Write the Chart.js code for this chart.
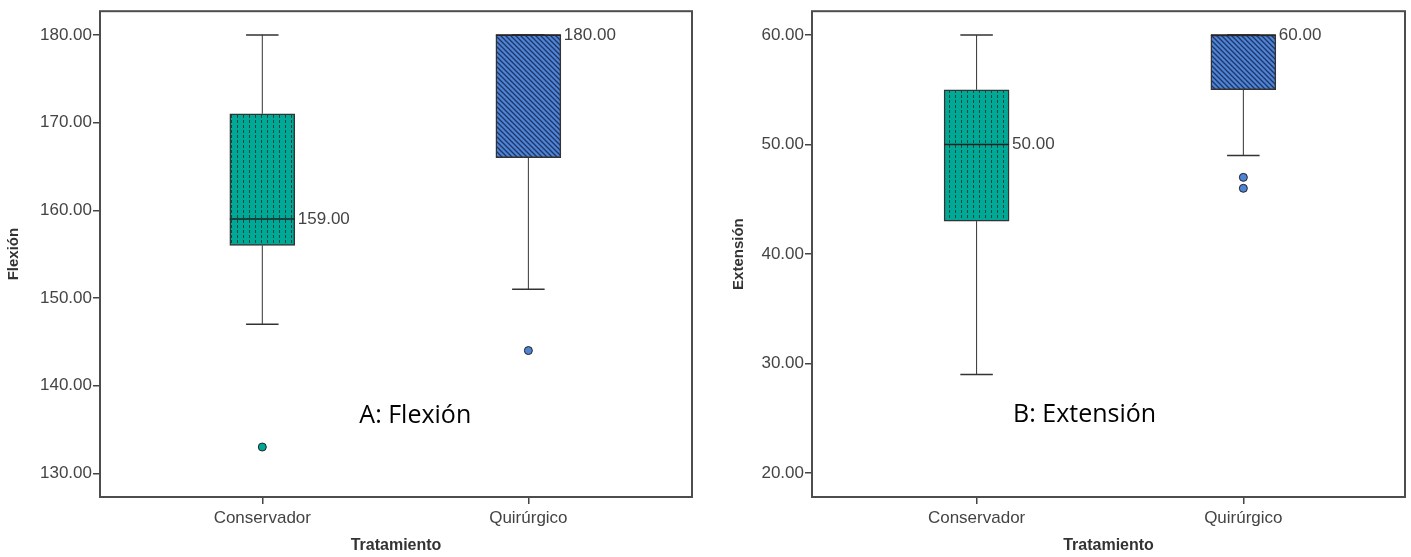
<!DOCTYPE html>
<html>
<head>
<meta charset="utf-8">
<script src="https://cdn.jsdelivr.net/npm/chart.js@4.4.1/dist/chart.umd.min.js"></script>
<style>
  body { margin: 0; background: #fff; }
  #wrap { display: flex; width: 1411px; height: 557px; }
  canvas { display: block; }
</style>
</head>
<body>
<div id="wrap">
  <canvas id="flexChart" width="706" height="557"></canvas>
  <canvas id="extChart" width="705" height="557"></canvas>
</div>
<script>
const categories = ['Conservador', 'Quirúrgico'];

// A: Flexión
const flexMin = [147, 151];
const flexQ1 = [156, 166];
const flexMedian = [159, 180];
const flexQ3 = [171, 180];
const flexMax = [180, 180];
const flexOutliers = [[133], [144]];
const flexTicks = [130, 140, 150, 160, 170, 180];

// B: Extensión
const extMin = [29, 49];
const extQ1 = [43, 55];
const extMedian = [50, 60];
const extQ3 = [55, 60];
const extMax = [60, 60];
const extOutliers = [[], [47, 46]];
const extTicks = [20, 30, 40, 50, 60];

const TEAL = '#00a996';
const BLUE = '#4f84d4';
const TICK_FONT = { family: 'Liberation Sans, Arial, sans-serif', size: 17 };

function dottedPattern() {
  const c = document.createElement('canvas');
  c.width = 6; c.height = 5;
  const g = c.getContext('2d');
  g.fillStyle = TEAL;
  g.fillRect(0, 0, 6, 5);
  g.fillStyle = '#15463f';
  g.fillRect(3, 0, 1, 3);
  return g.createPattern(c, 'repeat');
}

function hatchPattern() {
  const c = document.createElement('canvas');
  c.width = 5; c.height = 5;
  const g = c.getContext('2d');
  g.fillStyle = BLUE;
  g.fillRect(0, 0, 5, 5);
  g.strokeStyle = '#1c3466';
  g.lineWidth = 1.3;
  g.beginPath();
  g.moveTo(-1, -1); g.lineTo(6, 6);
  g.moveTo(-1, 4); g.lineTo(1, 6);
  g.moveTo(4, -1); g.lineTo(6, 1);
  g.stroke();
  return g.createPattern(c, 'repeat');
}

const boxExtras = {
  id: 'boxExtras',
  beforeDatasetsDraw(chart, args, opts) {
    const ctx = chart.ctx;
    const y = chart.scales.y;
    const meta = chart.getDatasetMeta(0);
    ctx.save();
    ctx.strokeStyle = '#333';
    meta.data.forEach((bar, i) => {
      const half = bar.width / 4;
      ctx.lineWidth = 1;
      ctx.beginPath();
      ctx.moveTo(bar.x, y.getPixelForValue(opts.max[i]));
      ctx.lineTo(bar.x, y.getPixelForValue(opts.q3[i]));
      ctx.moveTo(bar.x, y.getPixelForValue(opts.q1[i]));
      ctx.lineTo(bar.x, y.getPixelForValue(opts.min[i]));
      ctx.stroke();
      ctx.lineWidth = 1.5;
      ctx.beginPath();
      [opts.max[i], opts.min[i]].forEach(v => {
        const py = y.getPixelForValue(v);
        ctx.moveTo(bar.x - half, py);
        ctx.lineTo(bar.x + half, py);
      });
      ctx.stroke();
    });
    ctx.restore();
  },
  afterDatasetsDraw(chart, args, opts) {
    const ctx = chart.ctx;
    const x = chart.scales.x;
    const y = chart.scales.y;
    const meta = chart.getDatasetMeta(0);
    const area = chart.chartArea;
    ctx.save();
    meta.data.forEach((bar, i) => {
      const py = y.getPixelForValue(opts.median[i]);
      ctx.strokeStyle = '#222';
      ctx.lineWidth = 1.5;
      ctx.beginPath();
      ctx.moveTo(bar.x - bar.width / 2, py);
      ctx.lineTo(bar.x + bar.width / 2, py);
      ctx.stroke();
      ctx.fillStyle = '#444';
      ctx.font = TICK_FONT.size + 'px ' + TICK_FONT.family;
      ctx.textAlign = 'left';
      ctx.textBaseline = 'middle';
      ctx.fillText(opts.median[i].toFixed(2), bar.x + bar.width / 2 + 3, py);
    });
    ctx.fillStyle = '#000';
    ctx.font = '25px "Open Sans", sans-serif';
    ctx.textAlign = 'center';
    ctx.textBaseline = 'middle';
    ctx.fillText(opts.panel, x.getPixelForValue(opts.panelAt[0]), y.getPixelForValue(opts.panelAt[1]));
    ctx.strokeStyle = '#4d4d4d';
    ctx.lineWidth = 2;
    ctx.strokeRect(area.left, area.top, area.right - area.left, area.bottom - area.top);
    ctx.restore();
  }
};

function makeChart(id, opt) {
  const outlierPts = [];
  const outlierCols = [];
  opt.outliers.forEach((vals, i) => vals.forEach(v => {
    outlierPts.push({ x: i + 1, y: v });
    outlierCols.push(i === 0 ? TEAL : BLUE);
  }));

  new Chart(document.getElementById(id), {
    type: 'bar',
    data: {
      datasets: [{
        data: categories.map((c, i) => ({ x: i + 1, y: [opt.q1[i], opt.q3[i]] })),
        backgroundColor: [dottedPattern(), hatchPattern()],
        borderColor: '#333',
        borderWidth: 1.5,
        borderSkipped: false,
        barThickness: 65,
        order: 2
      }, {
        type: 'scatter',
        data: outlierPts,
        backgroundColor: outlierCols,
        borderColor: '#222',
        borderWidth: 1,
        pointRadius: 4,
        order: 1
      }]
    },
    options: {
      responsive: false,
      animation: false,
      events: [],
      layout: { padding: { top: 10, right: opt.padRight, left: 0, bottom: 0 } },
      plugins: {
        legend: { display: false },
        tooltip: { enabled: false },
        boxExtras: {
          min: opt.min, q1: opt.q1, median: opt.median, q3: opt.q3, max: opt.max,
          panel: opt.panel, panelAt: opt.panelAt
        }
      },
      scales: {
        x: {
          type: 'linear',
          min: opt.xRange[0],
          max: opt.xRange[1],
          offset: false,
          afterBuildTicks: s => { s.ticks = categories.map((c, i) => ({ value: i + 1 })); },
          afterFit: s => { s.height = 60; },
          grid: { offset: false, drawOnChartArea: false, drawTicks: true, tickLength: 7, color: '#444', lineWidth: 1.5 },
          border: { display: false },
          ticks: {
            font: TICK_FONT, color: '#444', padding: 4, maxRotation: 0,
            callback: v => categories[v - 1]
          },
          title: {
            display: true, text: 'Tratamiento', color: '#333',
            font: { family: 'Liberation Sans, Arial, sans-serif', size: 16, weight: 'bold' },
            padding: { top: 2, bottom: 2 }
          }
        },
        y: {
          min: opt.yRange[0],
          max: opt.yRange[1],
          afterBuildTicks: s => { s.ticks = opt.ticks.map(v => ({ value: v })); },
          afterFit: s => { s.width = opt.yWidth; },
          grid: { drawOnChartArea: false, drawTicks: true, tickLength: 7, color: '#444', lineWidth: 1.5 },
          border: { display: false },
          ticks: { font: TICK_FONT, color: '#444', padding: 1, callback: v => v.toFixed(2) },
          title: {
            display: true, text: opt.yTitle, color: '#333',
            font: { family: 'Liberation Sans, Arial, sans-serif', size: 15, weight: 'bold' },
            padding: { top: opt.yTitlePad, bottom: 2 }
          }
        }
      }
    },
    plugins: [boxExtras]
  });
}

makeChart('flexChart', {
  min: flexMin, q1: flexQ1, median: flexMedian, q3: flexQ3, max: flexMax,
  outliers: flexOutliers, ticks: flexTicks,
  yRange: [127.3, 182.7], xRange: [0.39, 2.615],
  yTitle: 'Flexión', yTitlePad: 5, yWidth: 100, padRight: 14,
  panel: 'A: Flexión', panelAt: [1.575, 136.6]
});

makeChart('extChart', {
  min: extMin, q1: extQ1, median: extMedian, q3: extQ3, max: extMax,
  outliers: extOutliers, ticks: extTicks,
  yRange: [17.8, 62.18], xRange: [0.383, 2.606],
  yTitle: 'Extensión', yTitlePad: 24, yWidth: 106, padRight: 6,
  panel: 'B: Extensión', panelAt: [1.405, 25.3]
});
</script>
</body>
</html>
